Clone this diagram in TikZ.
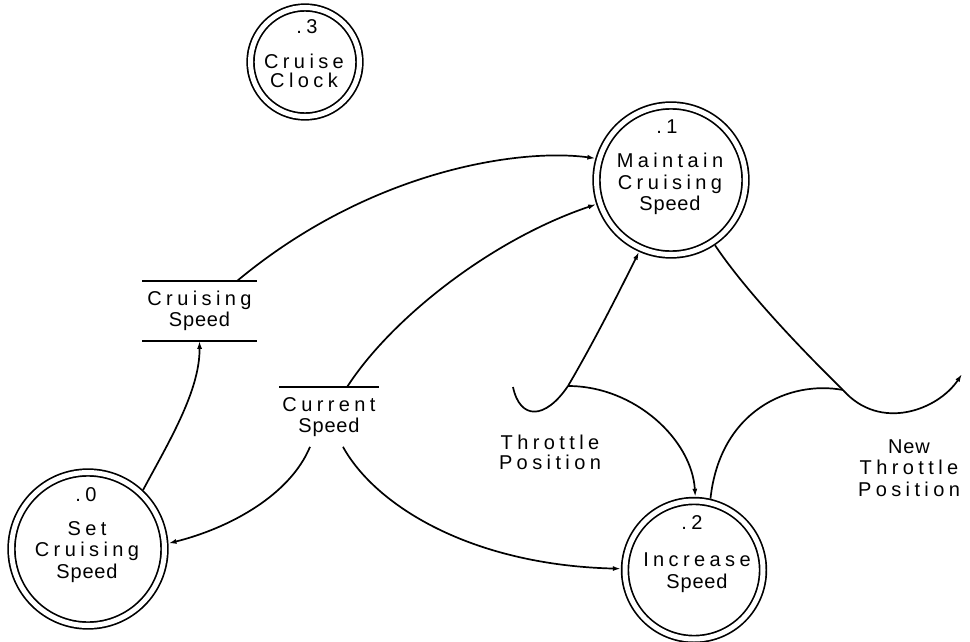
\documentclass[tikz,border=0pt]{standalone}
\usepackage{fontspec}
\setmainfont{Liberation Sans}
\newfontfamily\widefont[LetterSpace=22]{Liberation Sans}
\newfontfamily\tightfont[LetterSpace=4]{Liberation Sans}
\usetikzlibrary{arrows.meta}
\begin{document}
\begin{tikzpicture}[x=1pt,y=-1pt,line width=1.7pt,
  proc/.style={circle, draw, double, double distance=5pt, line width=1.7pt,
    minimum size=#1, inner sep=0pt, outer sep=4.2pt},
  txt/.style={font=\fontsize{20}{21.5}\selectfont, align=center, inner sep=0pt},
  store/.style={txt, rectangle, minimum height=58pt},
  flow/.style={-{Latex[length=8pt,width=5pt]}},
]
\useasboundingbox (0,0) rectangle (970,642);

% processes
\node[proc=109pt] (clock) at (305,62) {};
\node[proc=149pt] (m) at (671,180) {};
\node[proc=153pt] (s) at (88,549) {};
\node[proc=138pt] (inc) at (694,570) {};

\node[txt] (clockn) at (307,27) {\widefont .3};
\node[txt, font=\fontsize{20}{18.5}\selectfont] (clockt) at (304,71)
  {{\widefont Cruise}\\{\widefont Clock}};
\node[txt] (mn) at (667,127) {\widefont .1};
\node[txt] (mt) at (670,184)
  {{\widefont Maintain}\\{\widefont Cruising}\\{\tightfont Speed}};
\node[txt] (sn) at (86,495) {\widefont .0};
\node[txt] (st) at (87,552)
  {{\widefont Set}\\{\widefont Cruising}\\{\tightfont Speed}};
\node[txt] (incn) at (692,523) {\widefont .2};
\node[txt] (inct) at (697,572.5)
  {{\widefont Increase}\\{\tightfont Speed}};

% data stores
\node[store, minimum width=113pt] (cs) at (199.5,311)
  {{\widefont Cruising}\\{\tightfont Speed}};
\draw (cs.north west) -- (cs.north east) (cs.south west) -- (cs.south east);
\node[store, minimum width=98pt] (cur) at (329,417)
  {{\widefont Current}\\{\tightfont Speed}};
\draw (cur.north west) -- (cur.north east);

% external flow labels
\node[txt, font=\fontsize{20}{20}\selectfont] (tp) at (550,452)
  {{\widefont Throttle}\\{\widefont Position}};
\node[txt] (ntpl) at (909,468)
  {{\tightfont New}\\{\widefont Throttle}\\{\widefont Position}};

% flow end points
\coordinate (tsrc) at (513,387);
\coordinate (tj) at (568,386);
\coordinate (oj) at (843,390);
\coordinate (ntp) at (962,374);

% flows
\draw[flow] ([xshift=-20pt]cs.north east) .. controls (370,170) and (520,148) .. (m.164);
\draw[flow] ([xshift=18pt]cur.north) .. controls (390,320) and (490,240) .. (m.198);
\draw[flow] (s.47.5) .. controls (170,440) and (200,390) .. (cs.south);
\draw[flow] ([xshift=-19pt]cur.south) .. controls (290,495) and (230,528) .. (s.4);
\draw[flow] ([xshift=14pt]cur.south) .. controls (375,505) and (470,565) .. (inc.179);
\draw (tsrc) .. controls (520,420) and (545,420) .. (tj);
\draw[flow] (tj) .. controls (595,340) and (620,290) .. (m.246);
\draw[flow] (tj) .. controls (635,386) and (692,440) .. (inc.89);
\draw (inc.77.5) .. controls (720,410) and (790,380) .. (oj);
\draw (m.-56) .. controls (745,290) and (800,348) .. (oj);
\draw[flow] (oj) .. controls (880,432) and (938,410) .. (ntp);
\end{tikzpicture}
\end{document}
